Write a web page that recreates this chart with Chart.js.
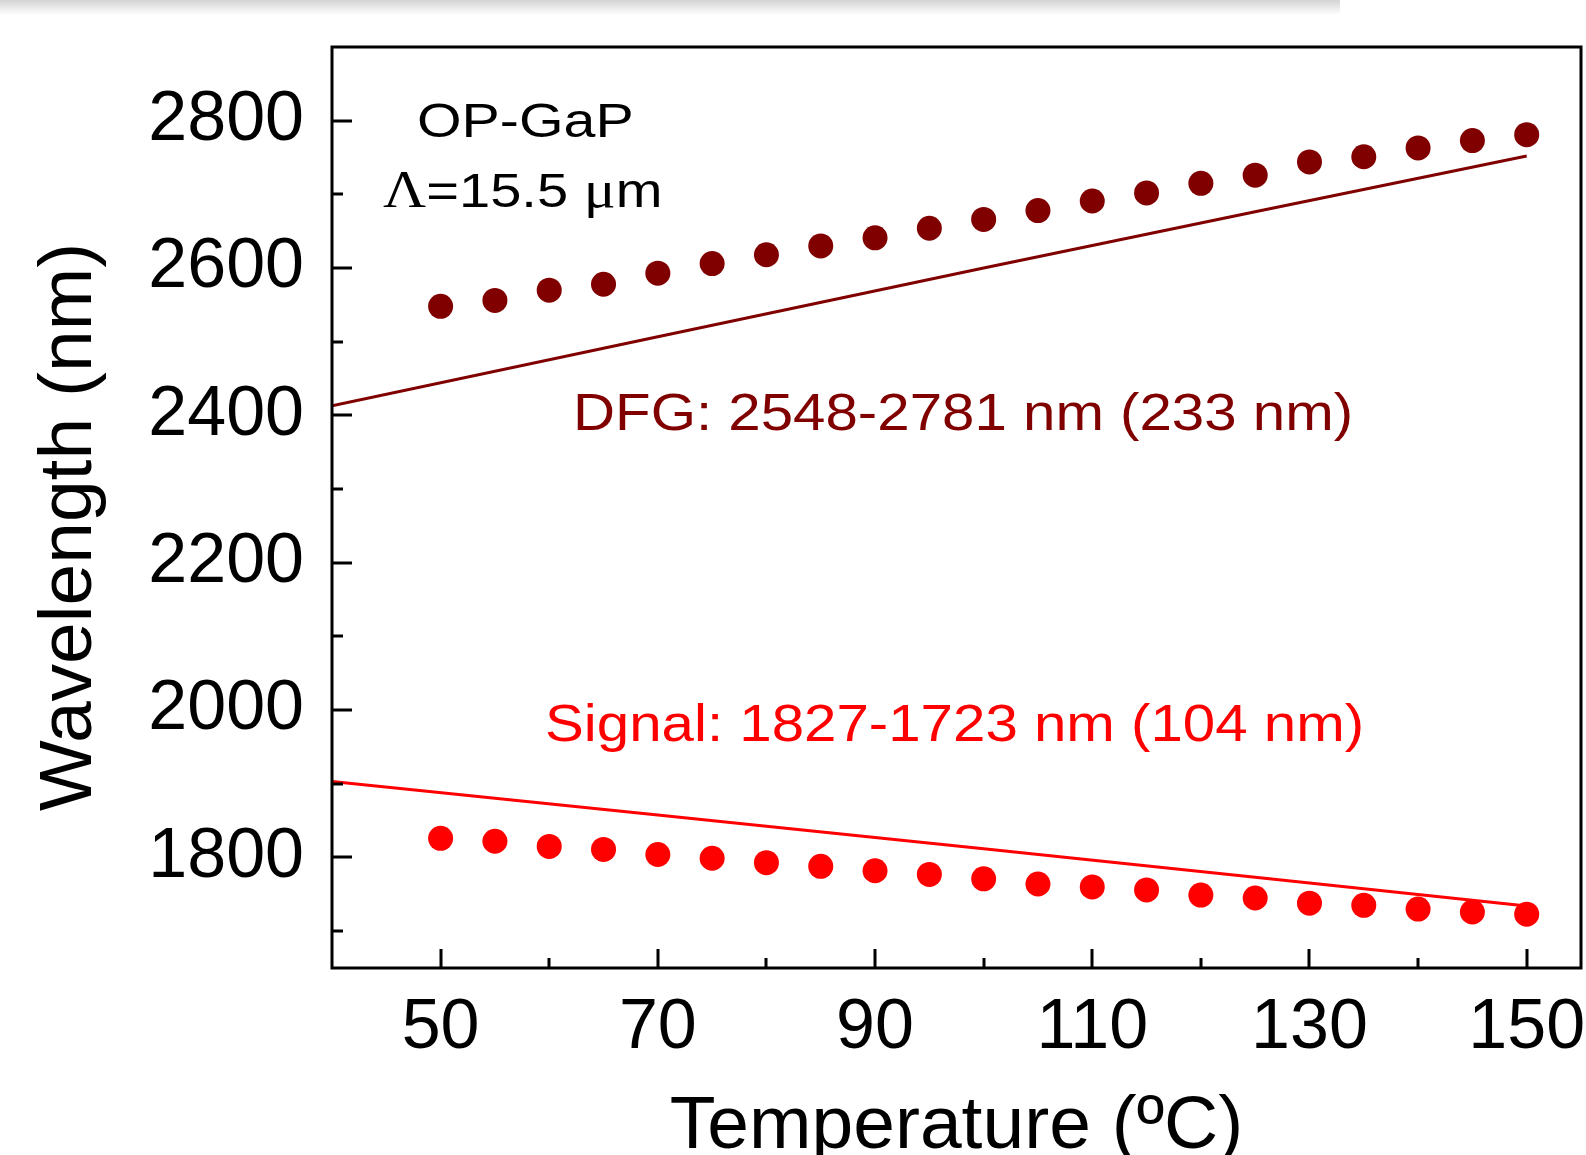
<!DOCTYPE html>
<html>
<head>
<meta charset="utf-8">
<script src="https://cdn.jsdelivr.net/npm/chart.js@4/dist/chart.umd.min.js"></script>
<style>
  html, body { margin: 0; padding: 0; background: #ffffff; overflow: hidden; }
  #wrap { position: relative; width: 1586px; height: 1155px; }
  #shade {
    position: absolute; left: 0; top: 0; width: 1340px; height: 15px;
    background: linear-gradient(#d4d4d4, #ffffff);
  }
  canvas { position: absolute; left: 0; top: 0; }
</style>
</head>
<body>
<div id="wrap">
  <canvas id="chart" width="1586" height="1155"></canvas>
  <div id="shade"></div>
</div>
<script>
// measured points, temperature in degC, wavelength in nm
const temps = [50, 55, 60, 65, 70, 75, 80, 85, 90, 95, 100, 105, 110, 115, 120, 125, 130, 135, 140, 145, 150]
const dfgMeasured = [2548, 2556, 2570, 2578, 2593, 2606, 2618, 2630, 2641, 2654, 2666, 2678, 2691, 2702, 2715, 2726, 2744, 2751, 2763, 2773, 2781]
const signalMeasured = [1826, 1822, 1815, 1811, 1804, 1799, 1793, 1788, 1782, 1777, 1771, 1764, 1760, 1756, 1749, 1745, 1738, 1735, 1730, 1726, 1723]

// calculated curves
const dfgTheoryTemps = [40, 100, 150]
const dfgTheory = [2413, 2600, 2752]
const signalTheoryTemps = [40, 100, 150]
const signalTheory = [1903, 1812, 1734]

// axes
const xMajorTicks = [50, 70, 90, 110, 130, 150]
const xMinorTicks = [60, 80, 100, 120, 140]
const yMajorTicks = [1800, 2000, 2200, 2400, 2600, 2800]
const yMinorTicks = [1700, 1900, 2100, 2300, 2500, 2700]

const DARK_RED = "#800000"
const RED = "#ff0000"
const FONT = "'Liberation Sans', Arial, sans-serif"
const SERIF = "'Liberation Serif', 'Times New Roman', serif"

const pairs = (xs, ys) => xs.map((x, i) => ({ x, y: ys[i] }))

// draws text squeezed/stretched horizontally by sx
function wideText(ctx, parts, left, baseline, sx) {
  ctx.save()
  ctx.translate(left, baseline)
  ctx.scale(sx, 1)
  let pos = 0
  parts.forEach(([text, font]) => {
    ctx.font = font
    ctx.fillText(text, pos, 0)
    pos += ctx.measureText(text).width
  })
  ctx.restore()
}

// keep the plot box where the layout padding says, labels may overhang
function noLabelPadding(scale) {
  scale.paddingTop = 0
  scale.paddingBottom = 0
  scale.paddingLeft = 0
  scale.paddingRight = 0
}

const frameAndLabels = {
  id: "frameAndLabels",
  afterDraw(chart) {
    const { ctx, chartArea: a, scales: { x, y } } = chart
    ctx.save()
    ctx.strokeStyle = "#000"
    ctx.lineWidth = 3
    ctx.lineCap = "butt"
    ctx.strokeRect(a.left, a.top, a.right - a.left, a.bottom - a.top)

    ctx.beginPath()
    xMajorTicks.forEach(v => {
      const px = Math.round(x.getPixelForValue(v))
      ctx.moveTo(px, a.bottom); ctx.lineTo(px, a.bottom - 19)
    })
    xMinorTicks.forEach(v => {
      const px = Math.round(x.getPixelForValue(v))
      ctx.moveTo(px, a.bottom); ctx.lineTo(px, a.bottom - 10)
    })
    yMajorTicks.forEach(v => {
      const py = Math.round(y.getPixelForValue(v))
      ctx.moveTo(a.left, py); ctx.lineTo(a.left + 20, py)
    })
    yMinorTicks.forEach(v => {
      const py = Math.round(y.getPixelForValue(v))
      ctx.moveTo(a.left, py); ctx.lineTo(a.left + 11, py)
    })
    ctx.stroke()

    ctx.fillStyle = "#000"
    ctx.textBaseline = "alphabetic"
    ctx.textAlign = "left"

    // axis titles
    ctx.save()
    ctx.font = `75px ${FONT}`
    ctx.textAlign = "center"
    ctx.fillText("Temperature (ºC)", (a.left + a.right) / 2, 1148)
    ctx.translate(91, 527)
    ctx.rotate(-Math.PI / 2)
    ctx.fillText("Wavelength (nm)", 0, 0)
    ctx.restore()

    wideText(ctx, [["OP-GaP", `49px ${FONT}`]], 417, 137, 1.17)
    wideText(ctx, [
      ["Λ", `52px ${SERIF}`],
      ["=15.5 ", `49px ${FONT}`],
      ["μ", `52px ${SERIF}`],
      ["m", `49px ${FONT}`]
    ], 383, 207, 1.145)

    ctx.fillStyle = DARK_RED
    wideText(ctx, [["DFG: 2548-2781 nm (233 nm)", `52px ${FONT}`]], 573, 430, 1.12)
    ctx.fillStyle = RED
    wideText(ctx, [["Signal: 1827-1723 nm (104 nm)", `52px ${FONT}`]], 545, 741, 1.12)
    ctx.restore()
  }
}

new Chart(document.getElementById("chart"), {
  type: "scatter",
  data: {
    datasets: [
      {
        data: pairs(dfgTheoryTemps, dfgTheory),
        showLine: true,
        borderColor: DARK_RED,
        borderWidth: 3,
        pointRadius: 0,
        tension: 0.4
      },
      {
        data: pairs(signalTheoryTemps, signalTheory),
        showLine: true,
        borderColor: RED,
        borderWidth: 3,
        pointRadius: 0,
        tension: 0.4
      },
      {
        data: pairs(temps, dfgMeasured),
        pointRadius: 12.5,
        pointBackgroundColor: DARK_RED,
        pointBorderWidth: 0
      },
      {
        data: pairs(temps, signalMeasured),
        pointRadius: 12.5,
        pointBackgroundColor: RED,
        pointBorderWidth: 0
      }
    ]
  },
  options: {
    responsive: false,
    animation: false,
    events: [],
    layout: { autoPadding: false, padding: { top: 47, right: 5, left: 0, bottom: 0 } },
    plugins: {
      legend: { display: false },
      tooltip: { enabled: false }
    },
    scales: {
      x: {
        type: "linear",
        min: 40,
        max: 155,
        afterBuildTicks: scale => { scale.ticks = xMajorTicks.map(value => ({ value })) },
        afterFit: scale => { scale.height = 187; noLabelPadding(scale) },
        grid: { display: false, drawTicks: false },
        border: { display: false },
        ticks: {
          color: "#000",
          padding: 19,
          maxRotation: 0,
          callback: v => String(v),
          font: { family: FONT, size: 70 }
        }
      },
      y: {
        type: "linear",
        min: 1650,
        max: 2900,
        afterBuildTicks: scale => { scale.ticks = yMajorTicks.map(value => ({ value })) },
        afterFit: scale => { scale.width = 332; noLabelPadding(scale) },
        grid: { display: false, drawTicks: false },
        border: { display: false },
        ticks: {
          color: "#000",
          padding: 28,
          callback: v => String(v),
          font: { family: FONT, size: 70 }
        }
      }
    }
  },
  plugins: [frameAndLabels]
})
</script>
</body>
</html>
